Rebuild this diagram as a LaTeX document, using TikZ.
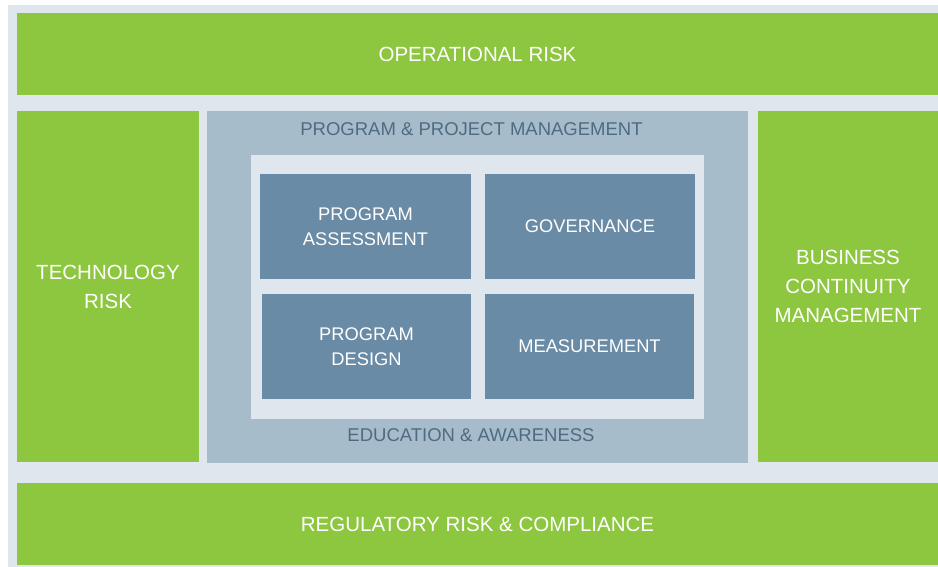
\documentclass[tikz,border=0pt]{standalone}
\usepackage{fontspec}
\setmainfont{Liberation Sans}
\definecolor{bgc}{HTML}{DFE6EE}
\definecolor{grn}{HTML}{8DC63F}
\definecolor{midc}{HTML}{A7BCCB}
\definecolor{drk}{HTML}{6A8BA5}
\definecolor{midtxt}{HTML}{4E6B82}
\tikzset{
  box/.style={rectangle, inner sep=0pt, outer sep=0pt, align=center},
  greenbox/.style={box, fill=grn, text=white, font=\fontsize{20.5}{29}\selectfont},
  darkbox/.style={box, fill=drk, text=white, font=\fontsize{18.3}{25}\selectfont},
  midlabel/.style={inner sep=0pt, text=midtxt, font=\fontsize{18.5}{22}\selectfont}
}
\begin{document}
\begin{tikzpicture}[x=1pt,y=-1pt]
\useasboundingbox (0,0) rectangle (938,567);
\fill[white] (0,0) rectangle (938,567);
\fill[bgc] (8,5) rectangle (938,567);
\node[greenbox, minimum width=921pt, minimum height=82pt] (op) at (477.5,54) {OPERATIONAL RISK};
\node[greenbox, minimum width=182pt, minimum height=351pt] (tech) at (108,286.5) {TECHNOLOGY\\RISK};
\node[box, fill=midc, minimum width=541pt, minimum height=352pt] (mid) at (477.5,287) {};
\node[greenbox, minimum width=180pt, minimum height=351pt] (bcm) at (848,286.5) {BUSINESS\\CONTINUITY\\MANAGEMENT};
\node[greenbox, minimum width=921pt, minimum height=82pt] (reg) at (477.5,524) {REGULATORY RISK \& COMPLIANCE};
\node[box, fill=bgc, minimum width=453pt, minimum height=264pt] (inner) at (477.5,287) {};
\node[midlabel] (ppm) at (471.5,129) {PROGRAM \& PROJECT MANAGEMENT};
\node[midlabel] (edu) at (471,435) {EDUCATION \& AWARENESS};
\node[darkbox, minimum width=211pt, minimum height=105pt] (pa) at (365.5,226.5) {PROGRAM\\ASSESSMENT};
\node[darkbox, minimum width=210pt, minimum height=105pt] (gov) at (590,226.5) {GOVERNANCE};
\node[darkbox, minimum width=209pt, minimum height=105pt] (pd) at (366.5,346.5) {PROGRAM\\DESIGN};
\node[darkbox, minimum width=209pt, minimum height=105pt] (meas) at (589.5,346.5) {MEASUREMENT};
\end{tikzpicture}
\end{document}
